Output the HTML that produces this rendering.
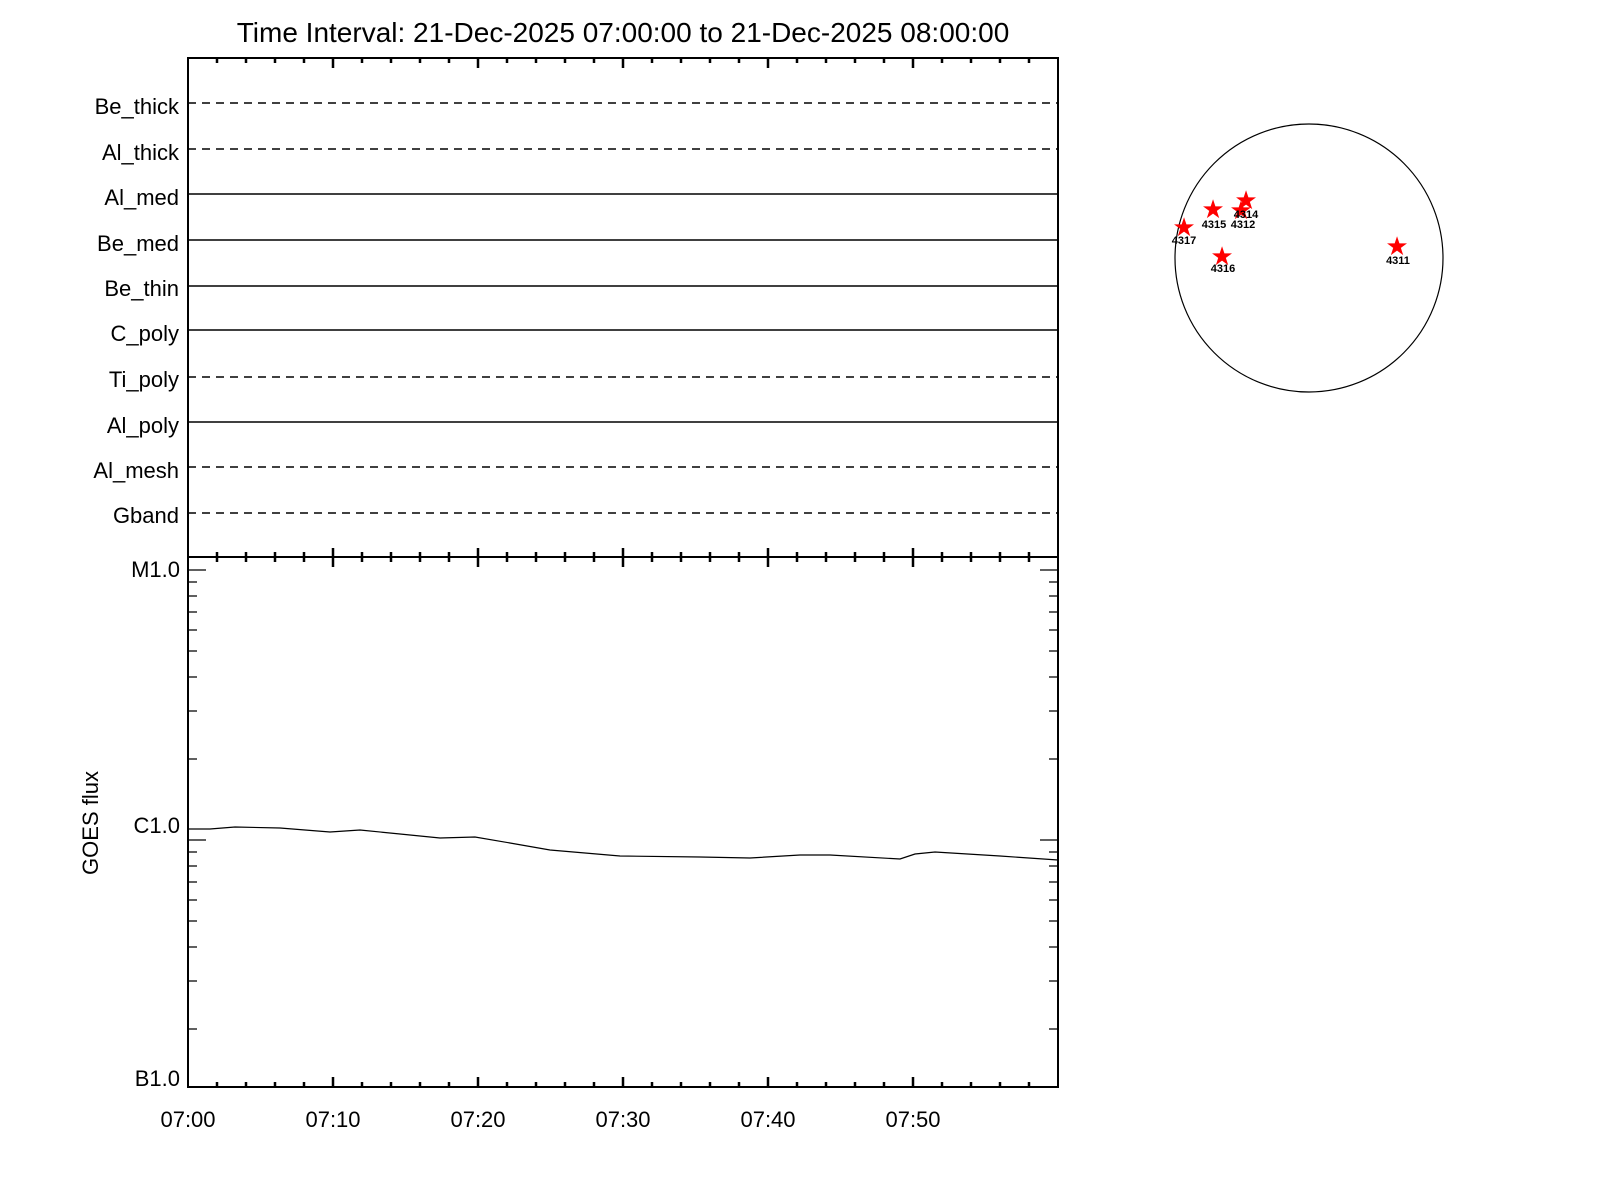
<!DOCTYPE html>
<html><head><style>body{margin:0;background:#fff}svg{display:block}</style></head><body>
<svg width="1600" height="1200" xmlns="http://www.w3.org/2000/svg" font-family="Liberation Sans, sans-serif">
<rect width="1600" height="1200" fill="#fff"/>
<text x="623" y="42" font-size="28" text-anchor="middle">Time Interval: 21-Dec-2025 07:00:00 to 21-Dec-2025 08:00:00</text>
<g stroke="#000" stroke-width="2" fill="none">
<rect x="188" y="58" width="870" height="1029"/>
<line x1="188" y1="557" x2="1058" y2="557"/>
</g>
<g stroke="#000" stroke-width="1.6">
<line x1="188" y1="103" x2="1058" y2="103" stroke-dasharray="8,6"/>
<line x1="188" y1="149" x2="1058" y2="149" stroke-dasharray="8,6"/>
<line x1="188" y1="194" x2="1058" y2="194"/>
<line x1="188" y1="240" x2="1058" y2="240"/>
<line x1="188" y1="286" x2="1058" y2="286"/>
<line x1="188" y1="330" x2="1058" y2="330"/>
<line x1="188" y1="377" x2="1058" y2="377" stroke-dasharray="8,6"/>
<line x1="188" y1="422" x2="1058" y2="422"/>
<line x1="188" y1="467" x2="1058" y2="467" stroke-dasharray="8,6"/>
<line x1="188" y1="513" x2="1058" y2="513" stroke-dasharray="8,6"/>
</g>
<g font-size="22" text-anchor="end">
<text x="179" y="114">Be_thick</text>
<text x="179" y="160">Al_thick</text>
<text x="179" y="205">Al_med</text>
<text x="179" y="251">Be_med</text>
<text x="179" y="296">Be_thin</text>
<text x="179" y="341">C_poly</text>
<text x="179" y="387">Ti_poly</text>
<text x="179" y="433">Al_poly</text>
<text x="179" y="478">Al_mesh</text>
<text x="179" y="523">Gband</text>
</g>
<g stroke="#000" stroke-width="2.5">
<path d="M333 58v10M478 58v10M623 58v10M768 58v10M913 58v10
M333 548v19M478 548v19M623 548v19M768 548v19M913 548v19
M333 1087v-10M478 1087v-10M623 1087v-10M768 1087v-10M913 1087v-10"/>
<path d="M217 58v5M246 58v5M275 58v5M304 58v5M362 58v5M391 58v5M420 58v5M449 58v5M507 58v5M536 58v5M565 58v5M594 58v5M652 58v5M681 58v5M710 58v5M739 58v5M797 58v5M826 58v5M855 58v5M884 58v5M942 58v5M971 58v5M1000 58v5M1029 58v5
M217 552v10M246 552v10M275 552v10M304 552v10M362 552v10M391 552v10M420 552v10M449 552v10M507 552v10M536 552v10M565 552v10M594 552v10M652 552v10M681 552v10M710 552v10M739 552v10M797 552v10M826 552v10M855 552v10M884 552v10M942 552v10M971 552v10M1000 552v10M1029 552v10
M217 1087v-5M246 1087v-5M275 1087v-5M304 1087v-5M362 1087v-5M391 1087v-5M420 1087v-5M449 1087v-5M507 1087v-5M536 1087v-5M565 1087v-5M594 1087v-5M652 1087v-5M681 1087v-5M710 1087v-5M739 1087v-5M797 1087v-5M826 1087v-5M855 1087v-5M884 1087v-5M942 1087v-5M971 1087v-5M1000 1087v-5M1029 1087v-5"/>
</g>
<g stroke="#000" stroke-width="1.2">
<path d="M188 570h18M188 840h18M1058 570h-18M1058 840h-18
M188 582h9M188 596h9M188 612h9M188 630h9M188 651h9M188 677h9M188 711h9M188 759h9
M188 852h9M188 866h9M188 882h9M188 900h9M188 921h9M188 947h9M188 981h9M188 1029h9
M1058 582h-9M1058 596h-9M1058 612h-9M1058 630h-9M1058 651h-9M1058 677h-9M1058 711h-9M1058 759h-9
M1058 852h-9M1058 866h-9M1058 882h-9M1058 900h-9M1058 921h-9M1058 947h-9M1058 981h-9M1058 1029h-9"/>
</g>
<polyline fill="none" stroke="#000" stroke-width="1.2" points="188,829 210,829 235,827 280,828 330,832 360,830 400,834 440,838 475,837 510,843 550,850 620,856 700,857 750,858 800,855 830,855 900,859 915,854 935,852 1000,856 1058,860"/>
<g font-size="22" text-anchor="end">
<text x="180" y="577">M1.0</text>
<text x="180" y="833">C1.0</text>
<text x="180" y="1086">B1.0</text>
</g>
<text transform="translate(98,823) rotate(-90)" font-size="22" text-anchor="middle">GOES flux</text>
<g font-size="22" text-anchor="middle">
<text x="188" y="1127">07:00</text><text x="333" y="1127">07:10</text><text x="478" y="1127">07:20</text>
<text x="623" y="1127">07:30</text><text x="768" y="1127">07:40</text><text x="913" y="1127">07:50</text>
</g>
<circle cx="1309" cy="258" r="134" fill="none" stroke="#000" stroke-width="1.2"/>
<g fill="#f00" font-size="26" text-anchor="middle">
<text x="1184" y="236">★</text><text x="1213" y="218">★</text><text x="1246" y="209">★</text>
<text x="1241" y="219">★</text><text x="1222" y="265">★</text><text x="1397" y="255">★</text>
</g>
<g font-size="11" font-weight="bold" text-anchor="middle">
<text x="1184" y="244">4317</text><text x="1214" y="228">4315</text><text x="1246" y="218">4314</text>
<text x="1243" y="228">4312</text><text x="1223" y="272">4316</text><text x="1398" y="264">4311</text>
</g>
</svg>
</body></html>
